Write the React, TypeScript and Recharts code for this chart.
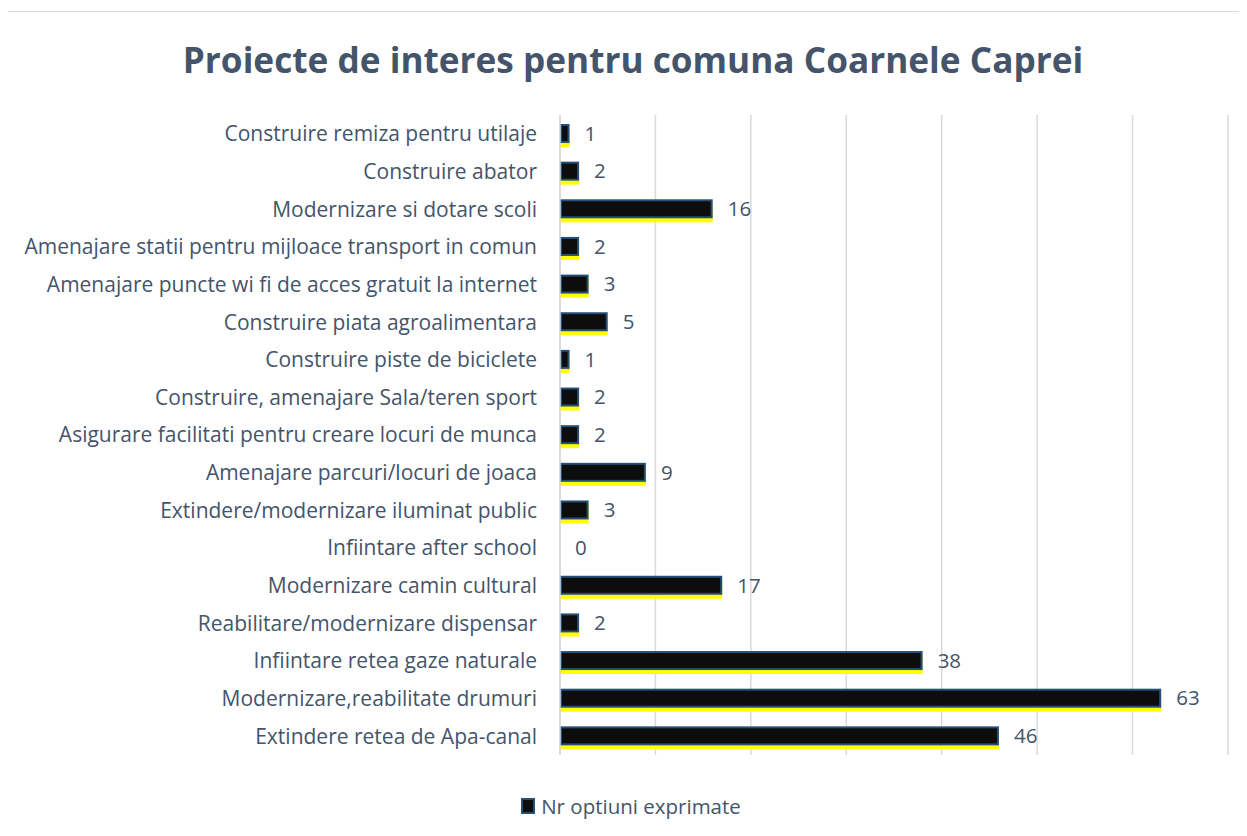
import { BarChart, Bar, XAxis, YAxis, CartesianGrid, LabelList } from 'recharts';

const categories = [
    'Construire remiza pentru utilaje',
    'Construire abator',
    'Modernizare si dotare scoli',
    'Amenajare statii pentru mijloace transport in comun',
    'Amenajare puncte wi fi de acces gratuit la internet',
    'Construire piata agroalimentara',
    'Construire piste de biciclete',
    'Construire, amenajare Sala/teren sport',
    'Asigurare facilitati pentru creare locuri de munca',
    'Amenajare parcuri/locuri de joaca',
    'Extindere/modernizare iluminat public',
    'Infiintare after school',
    'Modernizare camin cultural',
    'Reabilitare/modernizare dispensar',
    'Infiintare retea gaze naturale',
    'Modernizare,reabilitate drumuri',
    'Extindere retea de Apa-canal',
]
const optiuni = [1, 2, 16, 2, 3, 5, 1, 2, 2, 9, 3, 0, 17, 2, 38, 63, 46]
const xTicks = [0, 10, 20, 30, 40, 50, 60, 70]

const title = 'Proiecte de interes pentru comuna Coarnele Caprei'
const seriesName = 'Nr optiuni exprimate'

const data = categories.map((name, i) => ({ name, value: optiuni[i] }))

const textColor = '#44546a'
const font = '"Open Sans", "Noto Sans", sans-serif'

const ShadowBar = (props: any) => {
    const { x, y, width, height } = props
    if (!width || width <= 0) return <g />
    return (
        <g>
            <rect x={x} y={y + 4} width={width} height={height} fill='#ffff00' />
            <rect x={x + 1} y={y + 1} width={Math.max(width - 2, 0)} height={height - 2} fill='#0d0d0d' stroke='#264f78' strokeWidth={2} />
        </g>
    )
}

export default function App() {
    return (
        <div style={{ position: 'relative', width: 1240, height: 840, marginLeft: -1, marginTop: 3, border: '1px solid #d9d9d9', background: '#fff', fontFamily: font, boxSizing: 'border-box' }}>
            <div style={{ position: 'absolute', top: 23, left: 6, width: '100%', textAlign: 'center', fontSize: 35.2, fontWeight: 700, color: textColor }}>
                {title}
            </div>
            <BarChart
                layout="vertical"
                width={1238}
                height={823}
                data={data}
                margin={{ top: 103, right: 18, bottom: 80, left: 0 }}
                barCategoryGap={0}
            >
                <CartesianGrid horizontal={false} stroke='#d9d9d9' strokeWidth={1.5} />
                <XAxis type="number" domain={[0, 70]} ticks={xTicks} hide />
                <YAxis
                    type="category"
                    dataKey="name"
                    width={552}
                    tickLine={false}
                    axisLine={{ stroke: '#d9d9d9', strokeWidth: 1.5 }}
                    tickMargin={17}
                    interval={0}
                    tick={{ fill: textColor, fontSize: 21, fontFamily: font }}
                />
                <Bar dataKey="value" name={seriesName} barSize={19} shape={<ShadowBar />} isAnimationActive={false}>
                    <LabelList dataKey="value" position="right" offset={15} fill={textColor} fontSize={20.5} fontFamily={font} />
                </Bar>
            </BarChart>
            <div style={{ position: 'absolute', top: 780, left: 4, width: '100%', display: 'flex', justifyContent: 'center', alignItems: 'center', fontSize: 20.5, color: textColor }}>
                <span style={{ display: 'inline-block', width: 10, height: 12, background: '#0d0d0d', border: '2px solid #264f78', marginRight: 6 }} />
                {seriesName}
            </div>
        </div>
    )
}
